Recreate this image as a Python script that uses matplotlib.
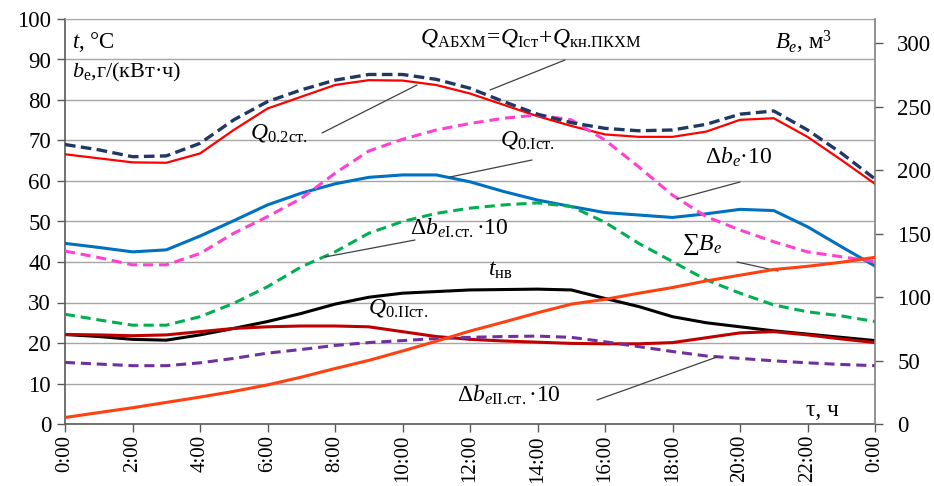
import matplotlib
matplotlib.use("Agg")
import matplotlib.pyplot as plt

plt.rcParams['font.family'] = ['Liberation Serif', 'DejaVu Serif']
plt.rcParams['mathtext.fontset'] = 'custom'
plt.rcParams['mathtext.rm'] = 'Liberation Serif'
plt.rcParams['mathtext.it'] = 'Liberation Serif:italic'
plt.rcParams['mathtext.bf'] = 'Liberation Serif:bold'

# ---- data (hourly) ----
hours = list(range(25))
x_tick_pos = list(range(0, 25, 2))
x_tick_labels = ["0:00", "2:00", "4:00", "6:00", "8:00", "10:00", "12:00",
                 "14:00", "16:00", "18:00", "20:00", "22:00", "0:00"]

q_abhm = [69.0, 67.7, 66.0, 66.2, 69.3, 75.1, 79.6, 82.5, 84.9, 86.3, 86.3, 85.1, 82.9,
          79.6, 76.5, 74.4, 73.0, 72.4, 72.6, 74.0, 76.5, 77.3, 72.6, 66.9, 60.5]
q_02 = [66.6, 65.6, 64.6, 64.5, 66.8, 72.6, 77.9, 80.8, 83.7, 84.9, 84.8, 83.7, 81.6,
        78.8, 76.0, 73.6, 71.5, 70.9, 70.9, 72.2, 75.1, 75.5, 70.9, 65.2, 59.3]
q_0i = [44.6, 43.6, 42.5, 43.0, 46.4, 50.2, 54.1, 57.0, 59.3, 60.9, 61.5, 61.5, 59.8,
        57.4, 55.3, 53.7, 52.2, 51.6, 51.0, 51.9, 53.0, 52.7, 48.7, 43.8, 39.0]
dbe = [42.7, 41.1, 39.3, 39.3, 42.1, 47.1, 51.2, 55.7, 61.9, 67.4, 70.3, 72.6, 74.2,
       75.5, 76.3, 75.1, 70.1, 63.5, 56.5, 51.2, 47.9, 45.0, 42.5, 41.3, 40.1]
dbe_i = [27.1, 25.7, 24.4, 24.4, 26.5, 29.8, 33.9, 38.8, 42.5, 47.1, 50.0, 52.0, 53.3,
         54.1, 54.6, 53.7, 49.8, 44.6, 40.1, 35.6, 32.3, 29.4, 27.7, 26.7, 25.3]
t_nv = [22.1, 21.6, 20.9, 20.7, 22.0, 23.6, 25.3, 27.3, 29.6, 31.3, 32.3, 32.7, 33.1,
        33.2, 33.3, 33.1, 31.0, 29.0, 26.5, 25.0, 24.0, 23.0, 22.2, 21.4, 20.6]
q_0ii = [22.1, 22.0, 21.8, 22.0, 22.8, 23.6, 24.0, 24.2, 24.2, 24.0, 22.8, 21.6, 20.9,
         20.5, 20.2, 19.9, 19.8, 19.8, 20.1, 21.3, 22.5, 22.8, 22.0, 21.0, 20.1]
dbe_ii = [15.2, 14.8, 14.4, 14.4, 15.1, 16.2, 17.5, 18.4, 19.4, 20.1, 20.6, 21.1, 21.4,
          21.6, 21.7, 21.4, 20.3, 19.1, 17.9, 16.8, 16.2, 15.6, 15.1, 14.7, 14.4]
sum_be = [5.1, 9.0, 12.8, 17.0, 21.2, 25.7, 30.8, 36.9, 43.7, 50.1, 57.5, 65.2, 73.2,
          80.3, 87.6, 94.4, 98.2, 103.0, 107.5, 112.7, 117.2, 121.7, 124.2, 127.4, 131.3]

left_ticks = list(range(0, 101, 10))
right_ticks = list(range(0, 301, 50))

W, H = 934, 486
fig = plt.figure(figsize=(W / 100, H / 100), dpi=100)
ax = fig.add_axes([65 / W, 1 - 424 / H, (875 - 65) / W, (424 - 19) / H])
ax2 = ax.twinx()

ax.set_xlim(0, 24)
ax.set_ylim(0, 100)
ax2.set_ylim(0, 319)

grid_c = '#A6A6A6'
ax.set_yticks(left_ticks)
ax.yaxis.grid(True, color=grid_c, lw=1.0)
ax.set_axisbelow(True)

ax.set_xticks(x_tick_pos)
ax.set_xticklabels(x_tick_labels, rotation=90, fontsize=15)
ax.tick_params(axis='y', labelsize=16.5, direction='out', length=6, width=1, color='#595959', pad=4)
ax.tick_params(axis='x', direction='out', length=6, width=1, color='#595959', pad=2)
ax2.set_yticks(right_ticks)
ax2.tick_params(axis='y', labelsize=16.5, direction='out', length=6, width=1, color='#595959', pad=10)

for sp in ['left', 'bottom']:
    ax.spines[sp].set_color('#595959')
    ax.spines[sp].set_linewidth(1.2)
ax.spines['top'].set_color(grid_c)
ax.spines['right'].set_visible(False)
ax2.spines['right'].set_color('#808080')
ax2.spines['right'].set_linewidth(1.2)
ax2.spines['top'].set_visible(False)
ax2.spines['left'].set_visible(False)
ax2.spines['bottom'].set_visible(False)

ax.plot(hours, q_02, color='#FF0000', lw=1.6, zorder=3)
ax.plot(hours, q_abhm, color='#1F3864', lw=2.4, dashes=(3.2, 1.6), zorder=4)
ax.plot(hours, q_0i, color='#0070C0', lw=2.2, zorder=3)
ax.plot(hours, dbe, color='#FF40D0', lw=2.2, dashes=(3.3, 1.9), zorder=3)
ax.plot(hours, dbe_i, color='#00B050', lw=2.2, dashes=(3.3, 1.9), zorder=3)
ax.plot(hours, t_nv, color='#000000', lw=2.2, zorder=3)
ax.plot(hours, q_0ii, color='#C00000', lw=2.2, zorder=3)
ax.plot(hours, dbe_ii, color='#7030A0', lw=2.2, dashes=(3.3, 1.9), zorder=3)
ax2.plot(hours, sum_be, color='#FF4010', lw=2.2, zorder=5)

# ---- labels & leader lines (figure pixel positions) ----
def ftext(px, py, s, size=17, ha='left', va='center'):
    fig.text(px / W, 1 - py / H, s, fontsize=size, ha=ha, va=va)

def leader(x1, y1, x2, y2):
    ax.annotate('', xy=(x2, H - y2), xytext=(x1, H - y1),
                xycoords='figure pixels', textcoords='figure pixels',
                arrowprops=dict(arrowstyle='-', color='#404040', lw=0.9,
                                shrinkA=0, shrinkB=0), annotation_clip=False)

ftext(72, 42, r'$t$, °C', size=16.5)
ftext(72, 72, r'$b_{\mathrm{e}}$,г/(кВт·ч)', size=16)
ftext(775, 42, r'$B_e$, м$^3$', size=16.5)
ftext(420, 38, r'$Q_{\mathrm{АБХМ}}\!=\!Q_{\mathrm{Iст}}\!+\!Q_{\mathrm{кн.\!ПКХМ}}$', size=17)
leader(565, 60, 490, 90)
ftext(250, 133, r'$Q_{\mathrm{0.\!2ст.}}$', size=17)
leader(322, 133, 417, 85)
ftext(500, 140, r'$Q_{\mathrm{0.\!Iст.}}$', size=17)
leader(532, 160, 450, 177)
ftext(705, 157, r'$\Delta b_e$·10', size=17)
leader(740, 182, 677, 199)
ftext(410, 228, r'$\Delta b_{e\mathrm{I.\!ст.}}$·10', size=17)
leader(415, 240, 325, 257)
ftext(488, 270, r'$t_{\mathrm{нв}}$', size=17)
ftext(368, 308, r'$Q_{\mathrm{0.\!IIст.}}$', size=17)
ftext(682, 245, r'∑$B_e$', size=17)
leader(737, 262, 778, 271)
ftext(457, 395, r'$\Delta b_{e\mathrm{II.\!ст.}}$·10', size=17)
leader(597, 400, 717, 357)
ftext(806, 410, 'τ, ч', size=17)

fig.savefig('out.png', dpi=100)
